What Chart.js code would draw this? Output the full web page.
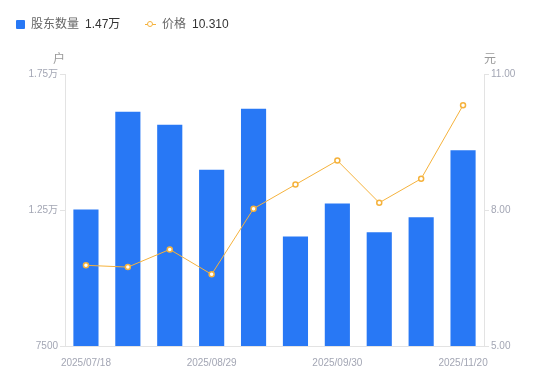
<!DOCTYPE html>
<html>
<head>
<meta charset="utf-8">
<script src="https://cdn.jsdelivr.net/npm/chart.js@4"></script>
<style>
    body { margin: 0; background: #fff; font-family: "Liberation Sans", "Noto Sans CJK SC", sans-serif; }
    #wrap { position: relative; width: 550px; height: 381px; }
    .lg { position: absolute; top: 16px; font-size: 12px; line-height: 16px; white-space: nowrap; }
    .lg .name { color: #666; }
    .lg .val { color: #333; margin-left: 6px; }
    .unit { position: absolute; top: 49px; font-size: 12px; color: #999; }
</style>
</head>
<body>
<div id="wrap">
    <canvas id="chart" width="550" height="381"></canvas>
    <div class="lg" style="left:16px;">
        <span style="display:inline-block;width:9px;height:9px;background:#2878f5;border-radius:1px;vertical-align:-1px;margin-right:6px;"></span><span class="name">股东数量</span><span class="val">1.47万</span>
    </div>
    <div class="lg" style="left:145px;">
        <span style="display:inline-block;position:relative;width:11px;height:9px;margin-right:6px;vertical-align:-1px;">
            <span style="position:absolute;left:0;top:4px;width:11px;height:1px;background:#f5b23c;"></span>
            <span style="position:absolute;left:2px;top:1px;width:4px;height:4px;border:1.5px solid #f5b23c;border-radius:50%;background:#fff;"></span>
        </span><span class="name">价格</span><span class="val">10.310</span>
    </div>
    <div class="unit" style="left:53px;">户</div>
    <div class="unit" style="left:484px;">元</div>
</div>
<script>
const dates = ["2025/07/18", "2025/07/31", "2025/08/15", "2025/08/29", "2025/09/10",
               "2025/09/19", "2025/09/30", "2025/10/20", "2025/10/31", "2025/11/20"];
const holders = [12520, 16110, 15630, 13980, 16220, 11530, 12740, 11680, 12230, 14700];
const prices = [6.78, 6.74, 7.13, 6.58, 8.03, 8.56, 9.09, 8.16, 8.69, 10.31];
const shownDates = [0, 3, 6, 9];

const axisColor = "#e3e3e3";
const tickColor = "#a3a6b4";
const font = { family: "'Liberation Sans', 'Noto Sans CJK SC', sans-serif", size: 10 };

function fmtHolders(v) {
    if (v >= 10000) return (v / 10000).toFixed(2) + "万";
    return String(v);
}

const ctx = document.getElementById("chart").getContext("2d");
new Chart(ctx, {
    data: {
        labels: dates,
        datasets: [
            {
                type: "line",
                label: "价格",
                data: prices,
                yAxisID: "y2",
                borderColor: "#f5b23c",
                borderWidth: 1,
                pointRadius: 2.5,
                pointBorderWidth: 1.5,
                pointBackgroundColor: "#fff",
                pointBorderColor: "#f5b23c",
                tension: 0,
                order: 0
            },
            {
                type: "bar",
                label: "股东数量",
                data: holders,
                yAxisID: "y",
                backgroundColor: "#2878f5",
                categoryPercentage: 0.6,
                barPercentage: 1,
                order: 1
            }
        ]
    },
    options: {
        responsive: false,
        animation: false,
        layout: { padding: { top: 74, left: 0, right: 0, bottom: 0 } },
        plugins: { legend: { display: false }, tooltip: { enabled: false } },
        scales: {
            x: {
                grid: { display: false },
                border: { display: true, color: axisColor },
                ticks: {
                    color: tickColor,
                    font: font,
                    autoSkip: false,
                    maxRotation: 0,
                    padding: 3,
                    callback: function (v, i) { return shownDates.includes(i) ? dates[i] : ""; }
                },
                afterFit: function (s) { s.height = 35; }
            },
            y: {
                position: "left",
                min: 7500,
                max: 17500,
                grid: { drawOnChartArea: false, tickLength: 5, color: axisColor },
                border: { color: axisColor },
                ticks: {
                    color: tickColor,
                    font: font,
                    stepSize: 5000,
                    padding: 2,
                    callback: fmtHolders
                },
                afterFit: function (s) { s.width = 65; }
            },
            y2: {
                position: "right",
                min: 5,
                max: 11,
                grid: { drawOnChartArea: false, tickLength: 5, color: axisColor },
                border: { color: axisColor },
                ticks: {
                    color: tickColor,
                    font: font,
                    stepSize: 3,
                    padding: 2,
                    callback: function (v) { return v.toFixed(2); }
                },
                afterFit: function (s) { s.width = 66; }
            }
        }
    }
});
</script>
</body>
</html>
